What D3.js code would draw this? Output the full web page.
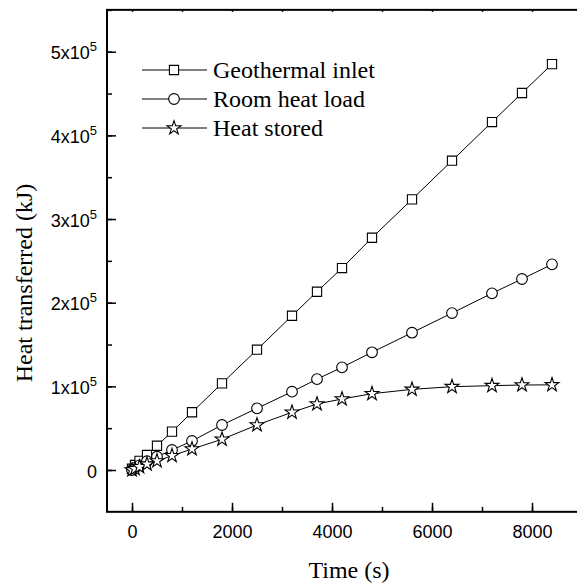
<!DOCTYPE html>
<html>
<head>
<meta charset="utf-8">
<script src="https://cdn.jsdelivr.net/npm/d3@7"></script>
<style>
  body { margin: 0; background: #fff; }
</style>
</head>
<body>
<script>
// time points (s)
var time = [0, 60, 150, 300, 500, 800, 1200, 1800, 2500, 3200, 3700, 4200, 4800, 5600, 6400, 7200, 7800, 8400];
// heat transferred (kJ)
var geothermal = [1500, 6000, 11000, 17900, 29000, 45800, 69000, 103600, 143800, 184400, 213100, 241400, 277600, 323500, 369700, 415900, 450600, 485200];
var roomLoad = [0, 2500, 5500, 10500, 15900, 23900, 34700, 53800, 73700, 93600, 108600, 122700, 140700, 164100, 187600, 211200, 228300, 245800];
var stored = [0, 1500, 3800, 7000, 10800, 17100, 25100, 36700, 53800, 69000, 78900, 84900, 91200, 96400, 99600, 100800, 101600, 101800];

var seriesNames = ["Geothermal inlet", "Room heat load", "Heat stored"];
var xTicks = [0, 2000, 4000, 6000, 8000];
var yTicks = [0, 1, 2, 3, 4, 5]; // x10^5

var sansFont = "'Liberation Sans', Arial, sans-serif",
    serifFont = "'Liberation Serif', 'Times New Roman', serif";

var svg = d3.select("body").append("svg")
    .attr("width", 577)
    .attr("height", 583);

var x = d3.scaleLinear().domain([0, 8000]).range([132, 532]),
    y = d3.scaleLinear().domain([0, 500000]).range([470, 51.7]);

var xMin = -500, xMax = 9000, yMin = -50000, yMax = 550000;

function tidy(g) {
  g.select(".domain").remove();
  g.selectAll("line").attr("stroke-width", 1.5);
}

// minor ticks
svg.append("g")
    .attr("transform", "translate(0," + y(yMin) + ")")
    .call(d3.axisBottom(x).tickValues(d3.range(0, 9001, 1000)).tickSizeInner(-5).tickSizeOuter(0).tickFormat(""))
    .call(tidy);

svg.append("g")
    .attr("transform", "translate(" + x(xMin) + ",0)")
    .call(d3.axisLeft(y).tickValues(d3.range(0, 550001, 50000)).tickSizeInner(-5).tickSizeOuter(0).tickFormat(""))
    .call(tidy);

svg.append("g")
    .attr("transform", "translate(0," + y(yMax) + ")")
    .call(d3.axisTop(x).tickValues(d3.range(0, 9001, 1000)).tickSizeInner(-2).tickSizeOuter(0).tickFormat(""))
    .call(tidy);

// major ticks + labels
var gx = svg.append("g")
    .attr("transform", "translate(0," + y(yMin) + ")")
    .call(d3.axisBottom(x).tickValues(xTicks).tickSizeInner(-9).tickSizeOuter(0).tickPadding(13).tickFormat(d3.format("d")))
    .call(tidy);
gx.attr("font-family", sansFont).attr("font-size", 18);
gx.selectAll("text").attr("fill", "#000");

var gy = svg.append("g")
    .attr("transform", "translate(" + x(xMin) + ",0)")
    .call(d3.axisLeft(y).tickValues(yTicks.map(function(d) { return d * 1e5; })).tickSizeInner(-9).tickSizeOuter(0).tickFormat(""))
    .call(tidy);
gy.attr("font-family", sansFont).attr("font-size", 18);
gy.selectAll(".tick text").remove();
gy.selectAll(".tick").append("text")
    .attr("x", 97 - x(xMin))
    .attr("y", 7)
    .attr("fill", "#000")
    .attr("text-anchor", "end")
    .each(function(d) {
      var t = d3.select(this);
      if (d === 0) { t.text("0"); return; }
      t.append("tspan").text((d / 1e5) + "x10");
      t.append("tspan").attr("dy", -8).attr("font-size", 13).text("5");
    });

// frame
svg.append("rect")
    .attr("x", x(xMin))
    .attr("y", y(yMax))
    .attr("width", x(xMax) - x(xMin))
    .attr("height", y(yMin) - y(yMax))
    .attr("fill", "none")
    .attr("stroke", "#000")
    .attr("stroke-width", 2);

// series
var series = [geothermal, roomLoad, stored];
var symbols = [d3.symbolSquare, d3.symbolCircle, d3.symbolStar];
var sizes = [85, 90, 60];

var line = d3.line()
    .x(function(d) { return x(d[0]); })
    .y(function(d) { return y(d[1]); });

series.forEach(function(vals, i) {
  var pts = time.map(function(t, j) { return [t, vals[j]]; });
  svg.append("path")
      .datum(pts)
      .attr("d", line)
      .attr("fill", "none")
      .attr("stroke", "#000")
      .attr("stroke-width", 1);
  svg.selectAll(".pt" + i)
    .data(pts)
    .enter().append("path")
      .attr("class", "pt" + i)
      .attr("transform", function(d) { return "translate(" + x(d[0]) + "," + y(d[1]) + ")"; })
      .attr("d", d3.symbol().type(symbols[i]).size(sizes[i]))
      .attr("fill", "#fff")
      .attr("stroke", "#000")
      .attr("stroke-width", 1.1);
});

// legend
var legend = svg.append("g")
    .attr("font-family", serifFont)
    .attr("font-size", 24);
seriesNames.forEach(function(name, i) {
  var ly = 70 + i * 29;
  legend.append("line")
      .attr("x1", 142).attr("x2", 207)
      .attr("y1", ly).attr("y2", ly)
      .attr("stroke", "#000").attr("stroke-width", 1);
  legend.append("path")
      .attr("transform", "translate(174," + ly + ")")
      .attr("d", d3.symbol().type(symbols[i]).size(sizes[i]))
      .attr("fill", "#fff").attr("stroke", "#000").attr("stroke-width", 1.1);
  legend.append("text")
      .attr("x", 213)
      .attr("y", ly + 7.5)
      .text(name);
});

// axis titles
svg.append("text")
    .attr("font-family", serifFont)
    .attr("font-size", 24)
    .attr("x", 349)
    .attr("y", 578)
    .attr("text-anchor", "middle")
    .text("Time (s)");

svg.append("text")
    .attr("font-family", serifFont)
    .attr("font-size", 24)
    .attr("transform", "translate(32,283) rotate(-90)")
    .attr("text-anchor", "middle")
    .text("Heat transferred (kJ)");
</script>
</body>
</html>
